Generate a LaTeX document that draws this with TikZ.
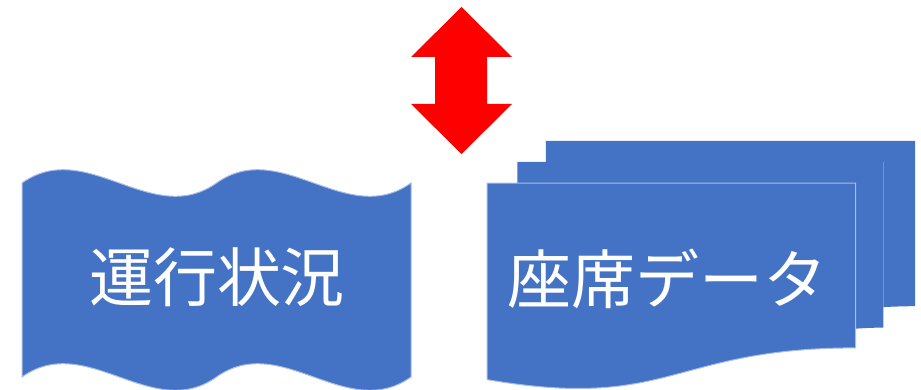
\documentclass[tikz,border=0pt]{standalone}
\usepackage{fontspec}
\newfontfamily\jpfont{Noto Sans CJK JP}
\definecolor{docblue}{HTML}{4472C4}
\definecolor{edgeblue}{HTML}{A9BEE6}
\tikzset{
    label/.style={text=white, font=\jpfont\fontsize{32}{32}\selectfont, inner sep=0pt},
    rim/.style={draw=edgeblue, line width=0.5pt}
}

\begin{document}
\begin{tikzpicture}[x=0.5pt, y=-0.5pt]
        \useasboundingbox (0, 0) rectangle (921, 390);
        \fill [docblue, rim] (22, 183) .. controls (86.8, 137) and (151.7, 229) .. (216.5, 183) .. controls (281.3, 137) and (346.2, 229) .. (411, 183) -- (411, 377) .. controls (346.2, 423) and (281.3, 331) .. (216.5, 377) .. controls (151.7, 423) and (86.8, 331) .. (22, 377) -- cycle;
        \fill [red] (461.5, 7) -- (512, 57) -- (487, 57) -- (487, 104) -- (512, 104) -- (461.5, 154) -- (411, 104) -- (435, 104) -- (435, 57) -- (411, 57) -- cycle;
        \fill [docblue] (545.9, 161.8) -- (545.9, 141) -- (915, 141) -- (915, 306.2) .. controls (899.2, 306.2) and (883.3, 307.1) .. (883.3, 307.1) -- (883.3, 161.8) -- cycle;
        \fill [docblue] (517.4, 183.2) -- (517.4, 161.8) -- (883.3, 161.8) -- (883.3, 327.6) .. controls (869.4, 327.6) and (855.5, 328.7) .. (855.5, 328.7) -- (855.5, 183.2) -- cycle;
        \fill [docblue, rim] (487, 379.6) .. controls (671.2, 411.3) and (671.2, 347.9) .. (855.5, 347.9) -- (855.5, 183.2) -- (487, 183.2) -- cycle;
        \node [label] (status) at (217, 277) {運行状況};
        \node [label] (seats) at (667, 279) {座席データ};
    \end{tikzpicture}
\end{document}
